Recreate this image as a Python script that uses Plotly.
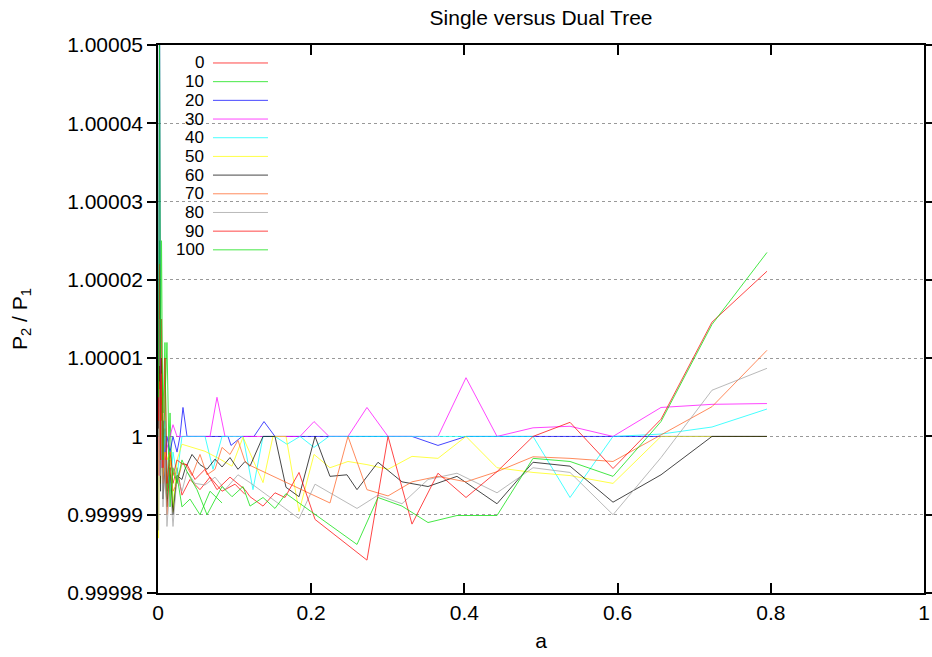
import plotly.graph_objects as go

# ---- data (a, P2/P1) ----
NEAR_A = [0.0007, 0.002, 0.0033, 0.0046, 0.0065, 0.0091, 0.0117, 0.0157, 0.0196, 0.0248, 0.0313]

a_0 = NEAR_A + [0.0418, 0.0548, 0.0679, 0.0836, 0.1005, 0.1136]
p_0 = [1.0, 1.000011, 0.999996, 1.000005, 0.9999945, 1.000001, 0.999993, 0.999997, 0.999994, 0.999996, 0.9999925,
       0.9999945, 0.9999932, 0.9999948, 0.999993, 0.9999939, 0.9999926]

a_10 = NEAR_A + [0.0418, 0.0548, 0.0679, 0.0836]
p_10 = [1.000002, 1.000025, 0.999998, 1.00001, 1.000003, 1.000012, 0.999992, 1.000003, 0.999991, 0.999995, 0.999991,
        0.999992, 0.99999, 0.999993, 0.9999915]

a_20 = [0.0007, 0.002, 0.0033, 0.0046, 0.0065, 0.0091, 0.0117, 0.0157, 0.0196, 0.0248, 0.0287, 0.0326, 0.0379,
        0.0914, 0.0953, 0.1097, 0.1253, 0.1384, 0.1527, 0.3316, 0.3655, 0.4021, 0.7950]
p_20 = [1.0, 1.000058, 1.000003, 0.999997, 1.000002, 0.999996, 1.0, 0.999998, 1.0, 0.999998, 1.0, 1.0000037, 1.0,
        1.0, 0.99999885, 1.0, 1.0, 1.0000019, 1.0, 1.0, 0.99999885, 1.0, 1.0]

a_30 = NEAR_A + [0.0418, 0.0679, 0.0770, 0.0875, 0.1854, 0.2037, 0.2232, 0.2480, 0.2728, 0.3003, 0.3655, 0.4021,
                 0.4426, 0.4896, 0.5379, 0.5940, 0.6567, 0.7232, 0.7950]
p_30 = [1.0000015, 0.999995, 1.000001, 0.999996, 0.999999, 0.999997, 0.9999985, 1.0, 1.0000015, 1.0, 1.0,
        1.0, 1.0, 1.000005, 1.0, 1.0, 1.0000019, 1.0, 1.0, 1.0000037, 1.0, 1.0, 1.0000075, 1.0, 1.0000011,
        1.0000013, 1.0, 1.0000037, 1.0000041, 1.0000042]

a_40 = NEAR_A + [0.0418, 0.0614, 0.0718, 0.0836, 0.1110, 0.1240, 0.1371, 0.1527, 0.1684, 0.1854, 0.2037, 0.2232,
                 0.4896, 0.5379, 0.5940, 0.6567, 0.7232, 0.7950]
p_40 = [1.0, 1.000015, 0.999995, 1.000004, 0.999994, 1.000002, 0.999996, 0.999993, 0.999998, 0.999995, 1.0,
        1.0, 1.0, 0.9999958, 1.0, 1.0, 0.9999932, 1.0, 1.0, 0.999999, 1.0, 0.9999986, 1.0,
        1.0, 0.9999922, 1.0, 1.0000003, 1.0000012, 1.0000035]

a_50 = NEAR_A + [0.0418, 0.0614, 0.0809, 0.0966, 0.1110, 0.1240, 0.1371, 0.1501, 0.1671, 0.1841, 0.2037, 0.2245,
                 0.2480, 0.2728, 0.3003, 0.3316, 0.3655, 0.4021, 0.4426, 0.4896, 0.5379, 0.5940, 0.6567, 0.7232,
                 0.7950]
p_50 = [0.999987, 1.000008, 0.999994, 1.000003, 0.999995, 0.999998, 0.999997, 0.999998, 0.9999903, 0.999997, 0.999999,
        0.9999987, 0.9999981, 0.9999971, 0.9999962, 0.9999999, 0.9999971, 0.9999941, 1.0, 1.0, 0.9999904, 0.9999977,
        0.999996, 0.9999968, 0.9999964, 0.9999958, 0.99999745, 0.9999972, 1.0, 0.999996, 0.9999954, 0.999995,
        0.999994, 1.0, 1.0, 1.0]

a_60 = NEAR_A + [0.0352, 0.0444, 0.0548, 0.0640, 0.0744, 0.0836, 0.0940, 0.1044, 0.1136, 0.1201, 0.1371, 0.1527,
                 0.1671, 0.1841, 0.2050, 0.2245, 0.2467, 0.2598, 0.2872, 0.3185, 0.3525, 0.3903, 0.4426, 0.4896,
                 0.5379, 0.5940, 0.6567, 0.7232, 0.7950]
p_60 = [1.000001, 1.000009, 0.999993, 1.00001, 0.999992, 0.999996, 0.999991, 0.999996, 0.99999, 0.999995, 0.9999945,
        0.9999958, 0.9999977, 0.9999964, 0.9999958, 0.9999971, 0.9999961, 0.9999973, 0.9999958, 0.9999968, 0.9999962,
        1.0, 1.0, 0.9999935, 0.9999923, 1.0, 0.9999949, 0.9999951, 0.9999932, 0.9999967, 0.9999942, 0.9999936,
        0.9999949, 0.9999914, 0.9999967, 0.9999962, 0.9999916, 0.9999951, 1.0, 1.0]

a_70 = NEAR_A + [0.0352, 0.0444, 0.0548, 0.0640, 0.0744, 0.0836, 0.0940, 0.1044, 0.1136, 0.1201, 0.2245, 0.2480,
                 0.2728, 0.3003, 0.3316, 0.3655, 0.4021, 0.4426, 0.4896, 0.5379, 0.5940, 0.6567, 0.7232, 0.7950]
p_70 = [0.999995, 1.000007, 0.999997, 1.000008, 0.999994, 0.999998, 0.99999, 0.999996, 0.999993, 0.999994, 0.9999965,
        0.9999965, 0.999995, 0.9999977, 0.9999951, 0.9999958, 0.9999986, 0.9999977, 0.9999995, 0.9999968, 0.9999963,
        0.9999915, 1.0, 0.9999932, 0.9999924, 0.9999942, 0.9999949, 0.9999942, 0.9999955, 0.9999974, 0.9999972,
        0.9999968, 1.0000002, 1.0000038, 1.000011]

a_80 = NEAR_A + [0.0379, 0.0483, 0.0614, 0.0744, 0.0875, 0.1044, 0.1201, 0.1841, 0.2050, 0.2598, 0.2872, 0.3185,
                 0.3525, 0.3903, 0.4426, 0.4896, 0.5379, 0.5940, 0.6567, 0.7232, 0.7950]
p_80 = [0.999988, 1.000006, 0.999995, 1.000002, 0.999991, 0.999997, 0.9999885, 0.999994, 0.9999885, 0.999995, 0.999993,
        0.9999955, 0.999994, 0.9999938, 0.9999948, 0.9999932, 0.9999951, 0.9999941, 0.9999895, 0.9999939, 0.9999908,
        0.9999925, 0.9999914, 0.9999945, 0.9999953, 0.9999928, 0.999996, 0.9999954, 0.99999, 0.9999973, 1.0000059,
        1.0000087]

a_90 = NEAR_A + [0.0379, 0.0483, 0.0614, 0.0770, 0.0940, 0.1136, 0.1201, 0.1371, 0.1527, 0.1658, 0.1841, 0.2050,
                 0.2728, 0.3003, 0.3316, 0.3655, 0.4021, 0.4426, 0.4896, 0.5379, 0.5940, 0.6567, 0.7232, 0.7950]
p_90 = [1.000002, 1.000022, 0.999997, 1.000015, 0.999996, 1.00001, 0.999994, 0.999998, 0.999995, 0.999997, 0.9999965,
        0.9999964, 0.9999945, 0.9999958, 0.9999932, 0.9999948, 0.9999932, 0.9999923, 0.9999911, 0.9999928, 0.9999922,
        0.9999954, 0.9999894, 0.9999842, 1.0, 0.9999888, 0.9999953, 0.9999922, 0.9999955, 1.0, 1.0000018, 0.9999959,
        1.0000022, 1.0000146, 1.0000211]

a_100 = NEAR_A + [0.0379, 0.0509, 0.0640, 0.0836, 0.0966, 0.1110, 0.1201, 0.1371, 0.1527, 0.1671, 0.2598, 0.2872,
                  0.3185, 0.3525, 0.3903, 0.4426, 0.4896, 0.5379, 0.5940, 0.6567, 0.7232, 0.7950]
p_100 = [1.000005, 1.000055, 1.00001, 1.000025, 0.999997, 1.000006, 1.000012, 0.999991, 0.999996, 0.999994, 0.999997,
         0.9999955, 0.9999932, 0.99999, 0.9999936, 0.9999923, 0.9999936, 0.9999911, 0.9999922, 0.9999908, 0.9999927,
         0.9999862, 0.9999922, 0.9999911, 0.999989, 0.9999899, 0.9999899, 0.9999972, 0.9999968, 0.9999949, 1.0000019,
         1.0000143, 1.0000235]

names = ["0", "10", "20", "30", "40", "50", "60", "70", "80", "90", "100"]
xs = [a_0, a_10, a_20, a_30, a_40, a_50, a_60, a_70, a_80, a_90, a_100]
ys = [p_0, p_10, p_20, p_30, p_40, p_50, p_60, p_70, p_80, p_90, p_100]
colors = ["#ff0000", "#00e000", "#0000ff", "#ff00ff", "#00ffff", "#ffff00",
          "#000000", "#ff6020", "#a0a0a0", "#ff0000", "#00e000"]

y_ticks = [0.99998, 0.99999, 1.0, 1.00001, 1.00002, 1.00003, 1.00004, 1.00005]
y_ticktext = ["0.99998", "0.99999", "1", "1.00001", "1.00002", "1.00003", "1.00004", "1.00005"]
x_ticks = [0, 0.2, 0.4, 0.6, 0.8, 1]

FONT = "Liberation Sans, Arial, sans-serif"
FS = 21

fig = go.Figure()
for name, x, y, c in zip(names, xs, ys, colors):
    fig.add_trace(go.Scatter(x=x, y=y, mode="lines", name=name, showlegend=False,
                             line=dict(color=c, width=1), opacity=0.72))

# key (gnuplot style: label right-aligned, sample to its right)
fig.add_shape(type="rect", xref="paper", yref="paper", x0=0.015, x1=0.157, y0=0.611, y1=0.999,
              fillcolor="white", line=dict(width=0), layer="between")
row0, dy = 0.9672, 0.0341
for i, (name, c) in enumerate(zip(names, colors)):
    yy = row0 - i * dy
    fig.add_annotation(x=0.0614, y=yy, xref="paper", yref="paper", text=name, showarrow=False,
                       xanchor="right", yanchor="middle", borderpad=0,
                       font=dict(size=17, color="black", family=FONT))
    fig.add_shape(type="line", xref="paper", yref="paper", x0=0.0718, x1=0.1436, y0=yy, y1=yy,
                  line=dict(color=c, width=1), opacity=0.72)

fig.update_layout(
    template="none",
    width=932, height=657,
    margin=dict(l=158, r=8, t=45, b=64, autoexpand=False),
    paper_bgcolor="white", plot_bgcolor="white",
    font=dict(family=FONT, size=FS, color="black"),
    title=dict(text="Single versus Dual Tree", x=0.5805, xref="container", xanchor="center",
               y=0.973, yref="container", yanchor="middle",
               font=dict(size=21, family=FONT, color="black")),
    showlegend=False,
)
fig.update_xaxes(range=[0, 1], tickvals=x_ticks, ticks="inside", ticklen=10, tickwidth=1.5, tickcolor="black",
                 showline=True, linecolor="black", linewidth=1.5, mirror="ticks", showgrid=False, zeroline=False,
                 automargin=False,
                 title=dict(text="a", font=dict(size=FS, family=FONT), standoff=10),
                 tickfont=dict(size=FS, family=FONT))
fig.update_yaxes(range=[0.99998, 1.00005], tickvals=y_ticks, ticktext=y_ticktext, ticks="outside", ticklen=9,
                 tickwidth=1.5, tickcolor="black", showline=True, linecolor="black", linewidth=1.5,
                 mirror="ticks", showgrid=True, gridcolor="#999999", griddash="dot", gridwidth=1, zeroline=False,
                 automargin=False,
                 title=dict(text="P<sub>2</sub> / P<sub>1</sub>", font=dict(size=FS, family=FONT), standoff=34),
                 tickfont=dict(size=FS, family=FONT))

# the page's default 8px body margin would push the 932x657 figure past the window
fig.write_html("out.html", config={"displayModeBar": False},
               post_script="document.body.style.margin='0px';")
